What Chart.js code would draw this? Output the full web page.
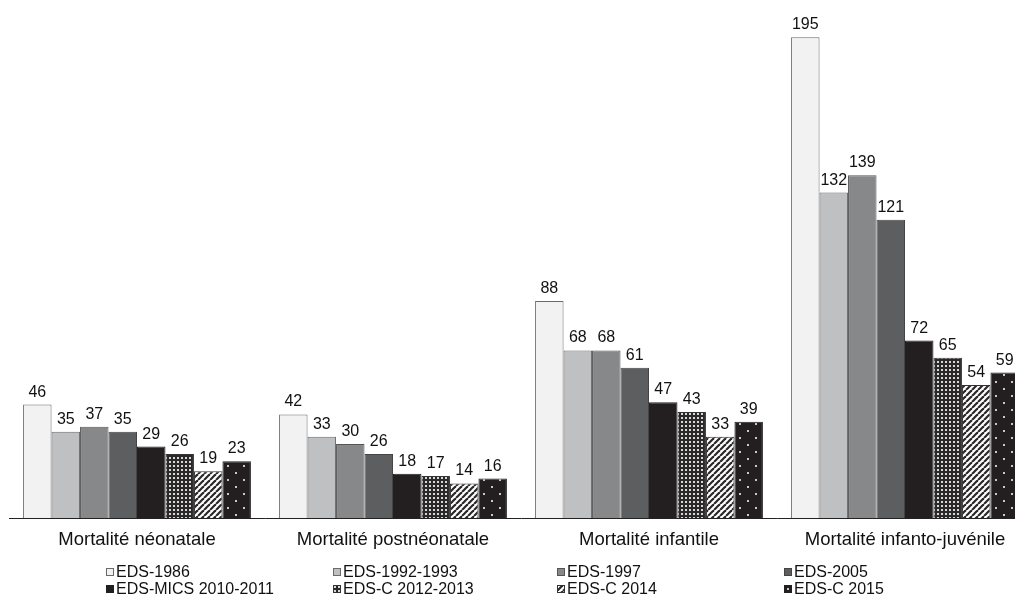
<!DOCTYPE html>
<html><head><meta charset="utf-8">
<script src="https://cdn.jsdelivr.net/npm/chart.js@4/dist/chart.umd.min.js"></script>
<style>
html,body{margin:0;padding:0;background:#fff;overflow:hidden;width:1015px;height:595px;}
#wrap{position:absolute;left:0;top:0;width:1033px;height:595px;}
#legend{position:absolute;left:0;top:0;width:1015px;height:595px;pointer-events:none;font-family:"Liberation Sans",Arial,sans-serif;font-size:16px;color:#111;}
.li{position:absolute;white-space:nowrap;line-height:17px;height:17px;}
.li canvas{position:absolute;left:0;top:5px;}
.li span{position:absolute;left:10px;top:0;}
</style></head>
<body>
<div id="wrap"><canvas id="c" width="1033" height="595"></canvas></div>
<div id="legend"></div>
<script>
const categories = ["Mortalité néonatale","Mortalité postnéonatale","Mortalité infantile","Mortalité infanto-juvénile"];
const seriesNames = ["EDS-1986","EDS-1992-1993","EDS-1997","EDS-2005","EDS-MICS 2010-2011","EDS-C 2012-2013","EDS-C 2014","EDS-C 2015"];
const eds1986 = [46,42,88,195];
const eds1992 = [35,33,68,132];
const eds1997 = [37,30,68,139];
const eds2005 = [35,26,61,121];
const edsMics2010 = [29,18,47,72];
const edsC2012 = [26,17,43,65];
const edsC2014 = [19,14,33,54];
const edsC2015 = [23,16,39,59];
const seriesValues = [eds1986,eds1992,eds1997,eds2005,edsMics2010,edsC2012,edsC2014,edsC2015];

function tile(w,h,draw){const c=document.createElement('canvas');c.width=w;c.height=h;const x=c.getContext('2d');draw(x);return c;}
const ctxMain=document.getElementById('c').getContext('2d');
const tDense=tile(4,4,x=>{x.fillStyle='#2b2829';x.fillRect(0,0,4,4);x.fillStyle='#d8d8d8';x.fillRect(1,1,2,2);});
const tStripe=tile(6,6,x=>{x.fillStyle='#ffffff';x.fillRect(0,0,6,6);x.strokeStyle='#2b2829';x.lineWidth=2.2;
  for(let k=-12;k<=12;k+=6){x.beginPath();x.moveTo(k,6);x.lineTo(k+6,0);x.stroke();}});
const tDots=tile(16,14,x=>{x.fillStyle='#231f20';x.fillRect(0,0,16,14);x.fillStyle='#c8c8c8';x.fillRect(3,3,2,2);x.fillRect(11,10,2,2);});
const fills=['#f1f2f1','#bfc0c2','#87888a','#5d5e60','#231f20',
  ctxMain.createPattern(tDense,'repeat'),ctxMain.createPattern(tStripe,'repeat'),ctxMain.createPattern(tDots,'repeat')];
const borders=['#6a6a6a','#6a6a6a','#555555','#444444','#231f20','#333333','#333333','#231f20'];

const datasets=seriesNames.map((n,i)=>({label:n,data:seriesValues[i],backgroundColor:fills[i],borderColor:borders[i],borderWidth:1,
  categoryPercentage:0.89,barPercentage:1}));

const valueLabels={id:'valueLabels',afterDatasetsDraw(chart){const c=chart.ctx;c.save();c.font='16px "Liberation Sans", Arial, sans-serif';c.fillStyle='#111';c.textAlign='center';c.textBaseline='alphabetic';
  chart.data.datasets.forEach((ds,i)=>{chart.getDatasetMeta(i).data.forEach((b,j)=>{c.fillText(String(ds.data[j]),b.x,b.y-8);});});c.restore();}};

new Chart(document.getElementById('c'),{type:'bar',data:{labels:categories,datasets},
 options:{responsive:false,animation:false,
  layout:{padding:{left:9,right:0,top:25,bottom:0}},
  plugins:{legend:{display:false},tooltip:{enabled:false}},
  scales:{
   y:{display:false,min:0,max:200},
   x:{grid:{display:false,drawTicks:false},border:{display:true,color:'#222',width:1},
      ticks:{color:'#111',font:{family:'"Liberation Sans", Arial, sans-serif',size:18.5},padding:11},
      afterFit(s){s.height=77;}}
  }},
 plugins:[valueLabels]});

const leg=document.getElementById('legend');
const colX=[106,333,557,784], rowY=[563,580];
seriesNames.forEach((n,i)=>{const d=document.createElement('div');d.className='li';
  d.style.left=colX[i%4]+'px';d.style.top=rowY[Math.floor(i/4)]+'px';
  const sw=document.createElement('canvas');sw.width=8;sw.height=8;const x=sw.getContext('2d');
  x.fillStyle=(i<5)?fills[i]:x.createPattern([tDense,tStripe,tDots][i-5],'repeat');x.fillRect(0,0,8,8);
  x.strokeStyle=borders[i];x.lineWidth=1;x.strokeRect(0.5,0.5,7,7);
  const sp=document.createElement('span');sp.textContent=n;
  d.appendChild(sw);d.appendChild(sp);leg.appendChild(d);});
</script>
</body></html>
